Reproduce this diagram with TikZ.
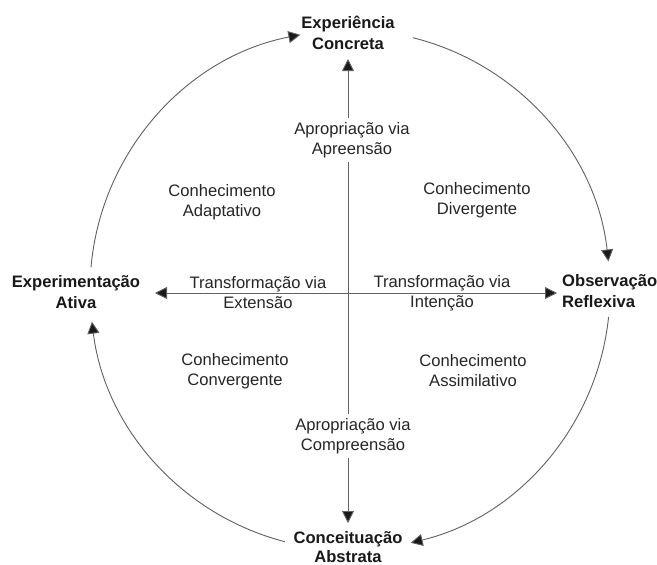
\documentclass[tikz,border=0pt]{standalone}
\usepackage{fontspec}
\setmainfont{Liberation Sans}
\usetikzlibrary{arrows.meta}
\begin{document}
\begin{tikzpicture}[x=1pt,y=-1pt,
  lbl/.style={font=\fontsize{16.6}{21}\selectfont\bfseries, align=center, inner sep=0pt, text=black!90},
  txt/.style={font=\fontsize{16.6}{20}\selectfont, align=center, inner sep=0pt, text=black!85},
  mask/.style={txt, fill=white, inner sep=4pt},
  conn/.style={draw=black!62, line width=0.9pt, -{Triangle[length=12pt,width=12pt,fill=black!90]}}]
\useasboundingbox[fill=white] (0,0) rectangle (657,565);

% centres
\coordinate (O) at (350,290);
\coordinate (C) at (348,293);

% pole labels
\node[lbl] (ec) at (348,33) {Experiência\\Concreta};
\node[lbl] (ea) at (76,292) {Experimentação\\Ativa};
\node[lbl, anchor=west, align=left] (or) at (562,291) {Observação\\Reflexiva};
\node[lbl, font=\fontsize{16.6}{19}\selectfont\bfseries] (ca) at (348,547.5) {Conceituação\\Abstrata};

% axis end points
\coordinate (T) at (348,59);
\coordinate (B) at (348,523);
\coordinate (L) at (155,293);
\coordinate (R) at (557,293);

% axes
\draw[conn] (C) -- (T);
\draw[conn] (C) -- (B);
\draw[conn] (C) -- (L);
\draw[conn] (C) -- (R);

% arcs of the cycle
\path (O) ++(185:260) coordinate (a1);
\path (O) ++(284:260) coordinate (a2);
\path (O) ++(6:260) coordinate (a3);
\path (O) ++(104.5:260) coordinate (a4);
\draw[conn] (a1) arc[start angle=185, end angle=259, radius=260];
\draw[conn] (a2) arc[start angle=284, end angle=353.7, radius=260];
\draw[conn] (a3) arc[start angle=6, end angle=76.5, radius=260];
\draw[conn] (a4) arc[start angle=104.5, end angle=173, radius=260];

% inner texts
\node[mask] (ap) at (352,140) {Apropriação via\\Apreensão};
\node[mask] (ac) at (353,436) {Apropriação via\\Compreensão};
\node[txt] (ad) at (222,202) {Conhecimento\\Adaptativo};
\node[txt] (dv) at (477,200) {Conhecimento\\Divergente};
\node[txt] (cv) at (235,371) {Conhecimento\\Convergente};
\node[txt] (as) at (473,371) {Conhecimento\\Assimilativo};
\node[txt] (te) at (258,293) {Transformação via\\Extensão};
\node[txt] (ti) at (442,293) {Transformação via\\Intenção};
\end{tikzpicture}
\end{document}
